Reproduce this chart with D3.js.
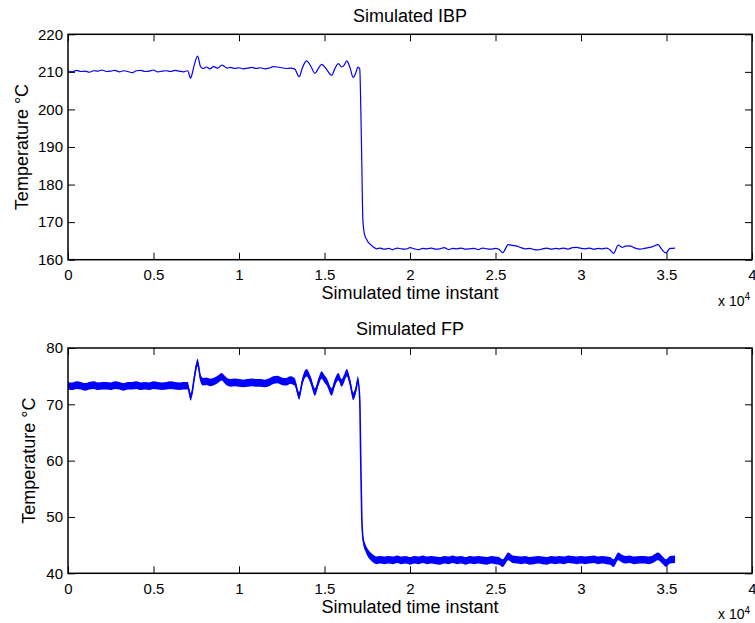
<!DOCTYPE html>
<html>
<head>
<meta charset="utf-8">
<script src="https://cdn.jsdelivr.net/npm/d3@7"></script>
<style>
  html, body { margin: 0; padding: 0; background: #fff; }
  svg { display: block; }
  text { font-family: "Liberation Sans", Arial, sans-serif; fill: #000; }
</style>
</head>
<body>
<svg id="chart" width="755" height="623"></svg>
<script>
// ---- data ----
const time = [
 0,250,500,750,1000,1250,1500,1750,2000,2250,
 2500,2750,3000,3250,3500,3750,4000,4250,4500,4750,
 5000,5250,5500,5750,6000,6250,6500,6750,7000,7170,
 7250,7380,7580,7750,7900,8100,8300,8500,8750,9000,
 9100,9300,9500,9750,10000,10250,10500,10750,11000,11250,
 11500,11750,12000,12250,12500,12750,13000,13250,13520,13700,
 13950,14200,14440,14650,14830,15000,15130,15420,15600,15810,
 16000,16150,16300,16500,16680,16850,16950,17060,17120,17180,
 17240,17300,17360,17450,17560,17700,17850,18050,18250,18500,
 18750,19000,19250,19500,19750,20000,20250,20500,20750,21000,
 21250,21500,21750,22000,22250,22500,22750,23000,23250,23500,
 23750,24000,24250,24500,24750,25000,25200,25420,25750,26000,
 26250,26500,26750,27000,27250,27500,27750,28000,28250,28500,
 28750,29000,29250,29500,29750,30000,30250,30500,30750,31000,
 31250,31500,31700,31900,32180,32400,32600,32850,33100,33450,
 33700,33950,34200,34500,34750,34970,35200,35500
];

const ibp = [
 210.3,210.0,210.4,210.1,210.2,209.9,210.3,210.2,210.5,210.1,
 210.2,210.4,210.0,210.3,210.1,209.8,210.3,210.4,210.1,210.2,
 210.5,210.0,210.2,210.3,210.1,210.4,210.2,210.0,210.3,208.3,
 209.3,211.8,214.2,211.4,210.9,211.3,210.8,211.4,211.0,211.8,
 211.6,211.0,211.2,210.9,211.1,210.8,211.0,211.2,210.9,211.1,
 210.8,211.0,211.4,211.3,211.1,210.9,211.0,210.8,208.7,211.0,
 212.9,211.5,209.6,211.0,212.0,211.4,210.6,209.1,210.8,212.2,
 211.3,211.8,212.9,211.0,208.5,210.0,211.3,210.8,201.0,186.0,
 171.0,167.8,166.4,165.5,164.6,164.0,163.4,162.9,163.1,162.8,
 163.0,162.7,163.1,162.9,162.8,163.2,162.9,162.7,163.0,162.9,
 163.1,162.8,162.9,163.2,162.7,163.0,162.9,163.1,162.8,162.9,
 163.0,162.7,163.1,162.9,162.8,163.0,162.8,161.9,164.0,163.8,
 163.6,163.2,162.9,163.0,162.7,162.6,162.9,163.1,162.8,163.0,
 162.9,163.1,162.8,163.2,163.3,163.0,162.9,163.1,162.8,163.0,
 162.9,163.1,162.6,161.7,163.9,163.3,163.6,163.7,163.2,162.8,
 163.0,163.2,163.5,164.0,162.6,161.8,163.0,163.1
];

const fp = [
 73.3,73.2,73.4,73.3,73.1,73.3,73.4,73.2,73.3,73.3,
 73.2,73.4,73.3,73.1,73.3,73.3,73.4,73.2,73.3,73.2,
 73.4,73.3,73.2,73.3,73.4,73.3,73.2,73.3,73.3,71.3,
 72.0,74.6,77.4,74.6,74.0,74.1,73.9,74.0,74.4,74.9,
 74.6,74.0,73.8,73.9,73.8,73.7,73.8,73.9,73.8,73.8,
 73.7,73.9,74.3,74.4,74.1,74.0,74.3,74.0,71.5,74.0,
 75.6,74.2,72.2,74.0,75.2,74.5,74.0,72.2,73.8,74.9,
 73.8,74.6,75.6,73.8,71.4,72.8,74.3,71.0,60.0,50.0,
 46.5,45.3,44.8,44.1,43.5,43.0,42.6,42.3,42.4,42.3,
 42.4,42.3,42.5,42.3,42.4,42.2,42.4,42.3,42.5,42.3,
 42.4,42.3,42.2,42.4,42.3,42.5,42.3,42.4,42.2,42.4,
 42.3,42.4,42.3,42.2,42.4,42.3,42.2,41.8,43.0,42.5,
 42.4,42.3,42.4,42.2,42.3,42.4,42.3,42.2,42.4,42.3,
 42.4,42.3,42.5,42.4,42.3,42.4,42.3,42.4,42.5,42.3,
 42.4,42.3,42.2,41.8,43.0,42.6,42.4,42.5,42.3,42.4,
 42.4,42.3,42.5,43.0,42.4,41.8,42.4,42.5
];

const xTicks = [0, 5000, 10000, 15000, 20000, 25000, 30000, 35000, 40000];
const ibpTicks = [160, 170, 180, 190, 200, 210, 220];
const fpTicks = [40, 50, 60, 70, 80];

const titles = ["Simulated IBP", "Simulated FP"];
const xLabel = "Simulated time instant";
const yLabel = "Temperature \u00B0C";

// ---- drawing ----
const svg = d3.select("#chart");
const left = 68, right = 752;
const panels = [
  { top: 34.3, bottom: 259.7, domain: [160, 220], ticks: ibpTicks, values: ibp, title: titles[0], band: false, ylabX: 28 },
  { top: 348, bottom: 573.3, domain: [40, 80], ticks: fpTicks, values: fp, title: titles[1], band: true, ylabX: 35 }
];

const x = d3.scaleLinear().domain([0, 40000]).range([left, right]);
const tickLen = 7;
const curve = d3.curveMonotoneX;

panels.forEach(p => {
  const y = d3.scaleLinear().domain(p.domain).range([p.bottom, p.top]);
  const g = svg.append("g");
  const data = time.map((t, i) => ({ t, v: p.values[i] }));

  // data
  if (p.band) {
    g.append("path")
      .datum(data)
      .attr("fill", "#0000ff")
      .attr("stroke", "none")
      .attr("d", d3.area().curve(curve).x(d => x(d.t)).y0(d => y(d.v) + 3.8).y1(d => y(d.v) - 3.8));
    g.append("path")
      .datum(data)
      .attr("fill", "none")
      .attr("stroke", "#0000ff")
      .attr("stroke-width", 1.6)
      .attr("d", d3.line().curve(curve).x(d => x(d.t)).y(d => y(d.v)));
  } else {
    g.append("path")
      .datum(data)
      .attr("fill", "none")
      .attr("stroke", "#0000ff")
      .attr("stroke-width", 1.2)
      .attr("stroke-linejoin", "round")
      .attr("d", d3.line().curve(curve).x(d => x(d.t)).y(d => y(d.v)));
  }

  // axes
  const fmtX = d => String(d / 1e4);
  const bottomAx = g.append("g").attr("transform", `translate(0,${p.bottom})`)
    .call(d3.axisBottom(x).tickValues(xTicks).tickFormat(fmtX).tickSizeInner(-tickLen).tickSizeOuter(0).tickPadding(9.6));
  const topAx = g.append("g").attr("transform", `translate(0,${p.top})`)
    .call(d3.axisTop(x).tickValues(xTicks).tickFormat("").tickSizeInner(-tickLen).tickSizeOuter(0));
  const leftAx = g.append("g").attr("transform", `translate(${left},0)`)
    .call(d3.axisLeft(y).tickValues(p.ticks).tickSizeInner(-tickLen).tickSizeOuter(0).tickPadding(5));
  const rightAx = g.append("g").attr("transform", `translate(${right},0)`)
    .call(d3.axisRight(y).tickValues(p.ticks).tickFormat("").tickSizeInner(-tickLen).tickSizeOuter(0));
  [bottomAx, topAx, leftAx, rightAx].forEach(a => {
    a.select(".domain").remove();
    a.selectAll("line").attr("stroke", "#000").attr("stroke-width", 1);
    a.selectAll("text").attr("font-size", 15).attr("font-family", "Liberation Sans, Arial, sans-serif").attr("fill", "#000");
  });

  // frame
  g.append("rect")
    .attr("x", left).attr("y", p.top)
    .attr("width", right - left).attr("height", p.bottom - p.top)
    .attr("fill", "none").attr("stroke", "#000").attr("stroke-width", 1.5);

  // title
  g.append("text")
    .attr("x", (left + right) / 2).attr("y", p.top - 12.8)
    .attr("text-anchor", "middle").attr("font-size", 18)
    .text(p.title);

  // x label
  g.append("text")
    .attr("x", (left + right) / 2).attr("y", p.bottom + 39.3)
    .attr("text-anchor", "middle").attr("font-size", 18)
    .text(xLabel);

  // exponent
  const ex = g.append("text").attr("x", 718).attr("y", p.bottom + 46).attr("font-size", 14);
  ex.append("tspan").text("x 10");
  ex.append("tspan").attr("font-size", 10).attr("dy", -5.3).text("4");

  // y label
  g.append("text")
    .attr("transform", `translate(${p.ylabX},${(p.top + p.bottom) / 2}) rotate(-90)`)
    .attr("text-anchor", "middle").attr("font-size", 18)
    .text(yLabel);
});
</script>
</body>
</html>
